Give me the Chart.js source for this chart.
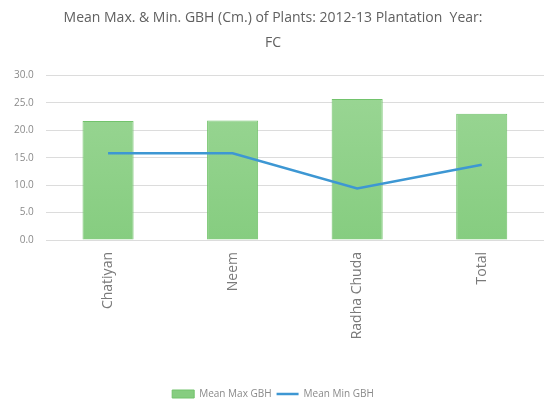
<!DOCTYPE html>
<html>
<head>
<meta charset="utf-8">
<script src="https://cdn.jsdelivr.net/npm/chart.js@4.4.0/dist/chart.umd.min.js"></script>
<style>
  html, body { margin: 0; padding: 0; background: #fff; }
  #wrap { width: 544px; height: 409px; }
</style>
</head>
<body>
<div id="wrap"><canvas id="gbhChart" width="544" height="409"></canvas></div>
<script>
// chart values
const plants = ['Chatiyan', 'Neem', 'Radha Chuda', 'Total'];
const meanMaxGbh = [21.7, 21.8, 25.7, 23.0];
const meanMinGbh = [15.8, 15.8, 9.4, 13.7];
const yTicks = [0, 5, 10, 15, 20, 25, 30];

const ctx = document.getElementById('gbhChart').getContext('2d');

// soft green fill like the original
const grad = ctx.createLinearGradient(0, 80, 0, 240);
grad.addColorStop(0, '#9bd695');
grad.addColorStop(1, '#86cd80');

new Chart(ctx, {
    data: {
        labels: plants,
        datasets: [{
            type: 'line',
            label: 'Mean Min GBH',
            data: meanMinGbh,
            borderColor: '#3d97d3',
            backgroundColor: '#3d97d3',
            borderWidth: 2.5,
            pointRadius: 0,
            tension: 0,
            order: 0
        }, {
            type: 'bar',
            label: 'Mean Max GBH',
            data: meanMaxGbh,
            backgroundColor: grad,
            borderColor: '#72c36c',
            borderWidth: 1,
            barPercentage: 0.41,
            categoryPercentage: 1,
            order: 1
        }]
    },
    options: {
        responsive: false,
        animation: false,
        layout: { padding: { left: 2, right: 0, top: 0, bottom: 0 } },
        plugins: {
            title: {
                display: true,
                text: ['Mean Max. & Min. GBH (Cm.) of Plants: 2012-13 Plantation  Year:', 'FC'],
                color: '#606060',
                font: { family: 'Open Sans', size: 14, weight: 'normal', lineHeight: 1.8 },
                padding: { top: 5, bottom: 20 }
            },
            legend: {
                position: 'bottom',
                reverse: true,
                labels: {
                    color: '#8a8a8a',
                    font: { family: 'Open Sans', size: 10 },
                    usePointStyle: true,
                    boxHeight: 8,
                    pointStyleWidth: 22,
                    padding: 5,
                    generateLabels: function (chart) {
                        const items = Chart.defaults.plugins.legend.labels.generateLabels(chart);
                        items.forEach(function (it) {
                            const ds = chart.data.datasets[it.datasetIndex];
                            it.pointStyle = ds.type === 'line' ? 'line' : 'rect';
                            it.lineWidth = ds.type === 'line' ? 2.5 : 1;
                        });
                        return items;
                    }
                }
            },
            tooltip: { enabled: false }
        },
        scales: {
            x: {
                grid: { display: false },
                border: { display: false },
                ticks: {
                    color: '#7a7a7a',
                    font: { family: 'Open Sans', size: 14 },
                    minRotation: 90,
                    maxRotation: 90,
                    padding: 4
                },
                afterFit: function (scale) { scale.height = 144; }
            },
            y: {
                min: 0,
                max: 30,
                afterBuildTicks: function (scale) {
                    scale.ticks = yTicks.map(function (v) { return { value: v }; });
                },
                grid: { color: '#dcdcdc', drawTicks: false },
                border: { display: false },
                ticks: {
                    color: '#8a8a8a',
                    font: { family: 'Open Sans', size: 10 },
                    padding: 12,
                    callback: function (v) { return Number(v).toFixed(1); }
                }
            }
        }
    }
});
</script>
</body>
</html>
